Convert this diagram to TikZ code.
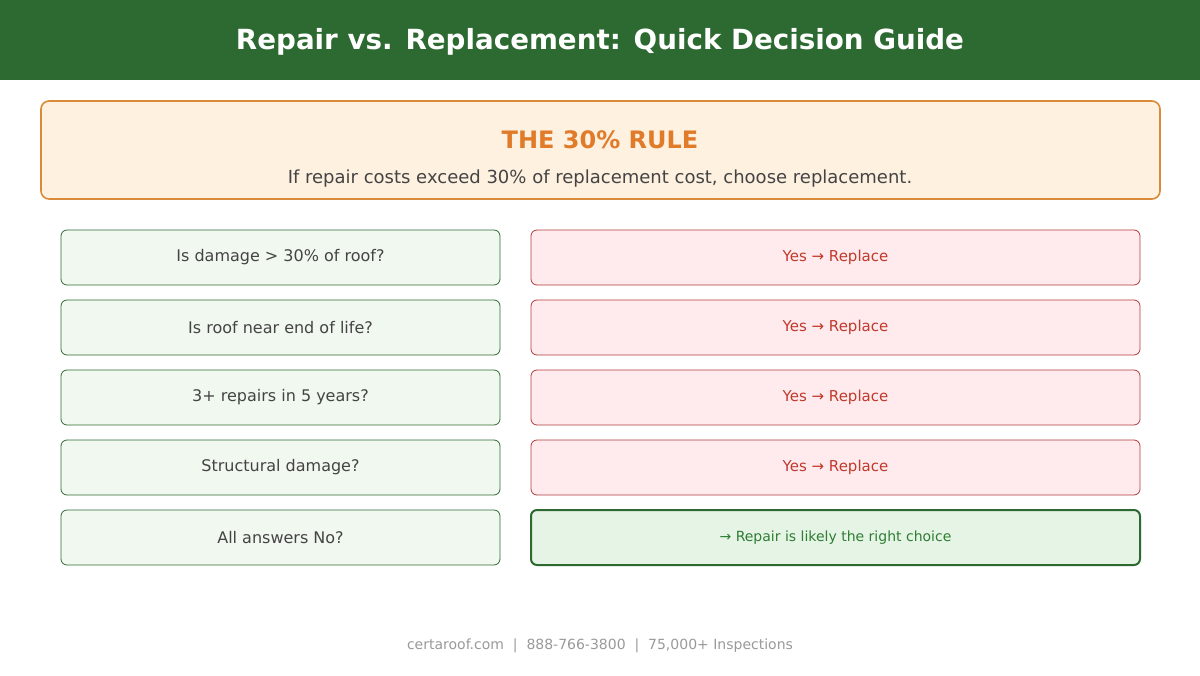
\documentclass[tikz,border=0pt]{standalone}
\usepackage{fontspec}
\setmainfont{DejaVu Sans}
\usetikzlibrary{positioning}
\definecolor{hdrgreen}{HTML}{2D6A31}
\definecolor{ruleorange}{HTML}{E07B2A}
\definecolor{rulefill}{HTML}{FFF1E0}
\definecolor{ruleline}{HTML}{D98B3A}
\definecolor{qfill}{HTML}{F1F8EF}
\definecolor{qline}{HTML}{2E6B32}
\definecolor{qtext}{HTML}{444444}
\definecolor{yfill}{HTML}{FFEBEE}
\definecolor{yline}{HTML}{B03A3A}
\definecolor{ytext}{HTML}{C0392B}
\definecolor{okfill}{HTML}{E6F4E6}
\definecolor{oktext}{HTML}{2E7D32}
\tikzset{every node/.append style={align=center, inner sep=3pt}}

\begin{document}
\begin{tikzpicture}[
    x=0.75pt, y=-0.75pt, node distance=11.25pt and 23.25pt,
    q/.style={rectangle, rounded corners=4.5pt, draw=qline, fill=qfill,
        line width=0.6pt, outer sep=0pt, minimum width=329.25pt, minimum height=41.25pt,
        font=\fontsize{12}{14}\selectfont, text=qtext},
    yes/.style={rectangle, rounded corners=4.5pt, draw=yline, fill=yfill,
        line width=0.6pt, outer sep=0pt, minimum width=456.75pt, minimum height=41.25pt,
        font=\fontsize{11.25}{13}\selectfont, text=ytext},
    ok/.style={yes, draw=hdrgreen, fill=okfill, line width=1.5pt, text=oktext,
        font=\fontsize{10.5}{13}\selectfont}
]
\useasboundingbox (0,0) rectangle (1200,675);
\fill[hdrgreen] (0,0) rectangle (1200,80);
\node[text=white, font=\fontsize{20.8}{24}\selectfont\bfseries] (title) at (600,41.5)
    {Repair vs. Replacement: Quick Decision Guide};
% the 30% rule
\node[rectangle, rounded corners=6pt, draw=ruleline, fill=rulefill, line width=1.2pt,
      minimum width=839.25pt, minimum height=73.5pt] (rule) at (600.5,150) {};
\node[text=ruleorange, font=\fontsize{18}{21}\selectfont\bfseries] (rulehd) at (600,140) {THE 30\% RULE};
\node[text=qtext, font=\fontsize{13.5}{16}\selectfont] (rulesub) at (600,179)
    {If repair costs exceed 30\% of replacement cost, choose replacement.};
% questions and answers
\node[q] (q1) at (280.5,257.5) {Is damage > 30\% of roof?};
\node[q, below=of q1] (q2) {Is roof near end of life?};
\node[q, below=of q2] (q3) {3+ repairs in 5 years?};
\node[q, below=of q3] (q4) {Structural damage?};
\node[q, below=of q4] (q5) {All answers No?};
\node[yes, right=of q1] (a1) {Yes → Replace};
\node[yes, right=of q2] (a2) {Yes → Replace};
\node[yes, right=of q3] (a3) {Yes → Replace};
\node[yes, right=of q4] (a4) {Yes → Replace};
\node[ok, right=of q5] (a5) {→ Repair is likely the right choice};
\node[text=black!40, font=\fontsize{10.5}{13}\selectfont] (foot) at (600,646)
    {certaroof.com \ | \ 888-766-3800 \ | \ 75,000+ Inspections};
\end{tikzpicture}
\end{document}
